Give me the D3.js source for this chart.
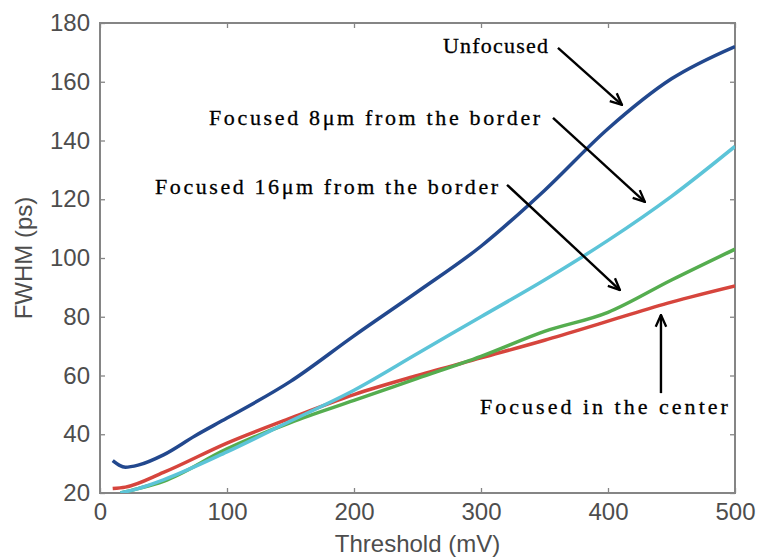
<!DOCTYPE html>
<html>
<head>
<meta charset="utf-8">
<script src="https://cdn.jsdelivr.net/npm/d3@7"></script>
<style>
  body { margin: 0; background: #fff; }
</style>
</head>
<body>
<div id="chart"></div>
<script>
(function fwhm(){

  // threshold (mV) -> FWHM (ps)
  const unfocusedT = [10, 15, 20, 30, 50, 75, 100, 150, 200, 250, 300, 350, 400, 450, 500];
  const unfocusedV = [31, 29.5, 28.8, 29.5, 33, 39.5, 45.5, 58, 73.5, 88.5, 104, 123, 144, 161, 172];

  const border8T = [16, 30, 50, 100, 150, 200, 250, 300, 350, 400, 450, 500];
  const border8V = [20, 21.5, 24.5, 34, 44.5, 55, 67.5, 80, 92.5, 106, 121, 138];

  const border16T = [16, 30, 50, 100, 150, 200, 250, 300, 350, 400, 450, 500];
  const border16V = [20, 21.5, 24, 35, 44, 51.5, 59, 66.5, 75, 81.5, 92.5, 103];

  const centerT = [10, 20, 50, 100, 150, 200, 250, 300, 350, 400, 450, 500];
  const centerV = [21.5, 22, 27, 37, 45.5, 53.5, 60, 66, 72, 78.5, 85, 90.5];

  const xTicks = [0, 100, 200, 300, 400, 500];
  const yTicks = [20, 40, 60, 80, 100, 120, 140, 160, 180];

  // annotation: label, text anchor (mV, ps), arrow start, arrow tip
  const noteLabels = ["Unfocused", "Focused 8\u03bcm from the border", "Focused 16\u03bcm from the border", "Focused in the center"];
  const noteText = [[270, 169.8], [85.8, 145.3], [43.3, 121.8], [299.2, 46.9]];
  const noteFrom = [[360.6, 171.5], [356.7, 147.7], [320.5, 124.9], [441.7, 54]];
  const noteTo = [[411, 152.1], [429, 119.1], [409.4, 89.1], [441.7, 80.6]];

  const series = [
    { name: "Focused in the center", t: centerT, v: centerV, color: "#d6453d" },
    { name: "Focused 16um", t: border16T, v: border16V, color: "#55ad4f" },
    { name: "Focused 8um", t: border8T, v: border8V, color: "#5cc4d8" },
    { name: "Unfocused", t: unfocusedT, v: unfocusedV, color: "#22488e" }
  ];

  let width = 761,
    height = 559,
    margin = { top: 23, right: 26, bottom: 66, left: 100 };

  const x = d3.scaleLinear().domain([0, 500]).range([margin.left, width - margin.right]);
  const y = d3.scaleLinear().domain([20, 180]).range([height - margin.bottom, margin.top]);

  const svg = d3.select("#chart")
    .append("svg")
    .attr("width", width)
    .attr("height", height)
    .style("font-family", "'Liberation Sans', Arial, sans-serif");

  svg.append("defs").append("clipPath")
    .attr("id", "plot")
    .append("rect")
    .attr("x", x(0)).attr("y", y(180))
    .attr("width", x(500) - x(0)).attr("height", y(20) - y(180));

  svg.append("defs").append("marker")
    .attr("id", "head")
    .attr("viewBox", "0 0 12 12")
    .attr("refX", 11).attr("refY", 6)
    .attr("markerWidth", 14).attr("markerHeight", 14)
    .attr("markerUnits", "userSpaceOnUse")
    .attr("orient", "auto")
    .append("path")
    .attr("d", "M1,1.5 L11,6 L1,10.5")
    .attr("fill", "none")
    .attr("stroke", "#000")
    .attr("stroke-width", 2);

  // axes
  const axisColor = "#858585";
  const styleAxis = g => {
    g.selectAll(".domain").remove();
    g.selectAll(".tick line").attr("stroke", axisColor).attr("stroke-width", 1.3);
    g.selectAll(".tick text").attr("fill", "#4d4d4d").attr("font-size", 24);
  };

  svg.append("g")
    .attr("transform", `translate(0,${y(20)})`)
    .call(d3.axisBottom(x).tickValues(xTicks).tickSize(-5).tickPadding(10))
    .call(styleAxis);

  svg.append("g")
    .attr("transform", `translate(${x(0)},0)`)
    .call(d3.axisLeft(y).tickValues(yTicks).tickSize(-5).tickPadding(10))
    .call(styleAxis);

  svg.append("g")
    .attr("transform", `translate(0,${y(180)})`)
    .call(d3.axisTop(x).tickValues(xTicks).tickSize(-5).tickFormat(""))
    .call(styleAxis);

  svg.append("g")
    .attr("transform", `translate(${x(500)},0)`)
    .call(d3.axisRight(y).tickValues(yTicks).tickSize(-5).tickFormat(""))
    .call(styleAxis);

  svg.append("rect")
    .attr("x", x(0)).attr("y", y(180))
    .attr("width", x(500) - x(0)).attr("height", y(20) - y(180))
    .attr("fill", "none")
    .attr("stroke", axisColor)
    .attr("stroke-width", 2);

  // lines
  const line = d3.line()
    .x(d => x(d[0]))
    .y(d => y(d[1]))
    .curve(d3.curveMonotoneX);

  svg.append("g")
    .attr("clip-path", "url(#plot)")
    .selectAll("path")
    .data(series)
    .join("path")
    .attr("fill", "none")
    .attr("stroke", d => d.color)
    .attr("stroke-width", 3.5)
    .attr("stroke-linejoin", "round")
    .attr("d", d => line(d.t.map((t, i) => [t, d.v[i]])));

  // axis titles
  svg.append("text")
    .attr("x", (x(0) + x(500)) / 2)
    .attr("y", height - 7)
    .attr("text-anchor", "middle")
    .attr("font-size", 24)
    .attr("fill", "#4d4d4d")
    .text("Threshold (mV)");

  svg.append("text")
    .attr("transform", `translate(32,${(y(20) + y(180)) / 2}) rotate(-90)`)
    .attr("text-anchor", "middle")
    .attr("font-size", 24)
    .attr("fill", "#4d4d4d")
    .text("FWHM (ps)");

  // annotations
  const charW = 11.9;
  const notes = noteLabels.map((label, i) => ({
    label: label,
    at: noteText[i],
    from: noteFrom[i],
    to: noteTo[i]
  }));

  svg.append("g")
    .selectAll("line")
    .data(notes)
    .join("line")
    .attr("x1", d => x(d.from[0])).attr("y1", d => y(d.from[1]))
    .attr("x2", d => x(d.to[0])).attr("y2", d => y(d.to[1]))
    .attr("stroke", "#000")
    .attr("stroke-width", 2.4)
    .attr("marker-end", "url(#head)");

  svg.append("g")
    .attr("font-family", "'Liberation Serif', 'Times New Roman', serif")
    .attr("font-size", 22)
    .attr("fill", "#000")
    .attr("stroke", "#000")
    .attr("stroke-width", 0.3)
    .selectAll("text")
    .data(notes)
    .join("text")
    .attr("x", d => x(d.at[0]))
    .attr("y", d => y(d.at[1]))
    .attr("textLength", d => (d.label.length + (d.label.includes("\u03bc") ? 1 : 0)) * charW - 2)
    .attr("lengthAdjust", "spacing")
    .text(d => d.label);

})();
</script>
</body>
</html>
